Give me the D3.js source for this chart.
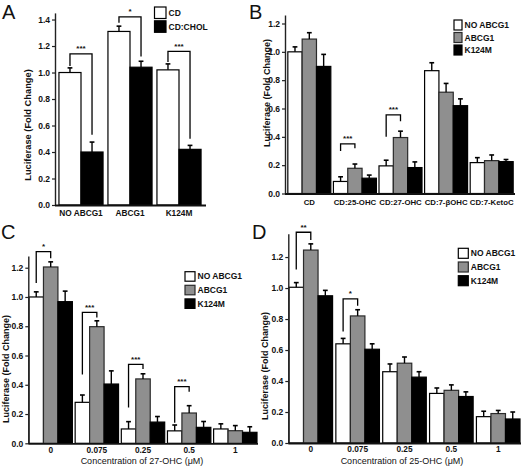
<!DOCTYPE html>
<html><head><meta charset="utf-8">
<script src="https://cdn.jsdelivr.net/npm/d3@7"></script>
<style>body{margin:0;background:#fff}svg{display:block;font-family:"Liberation Sans",Arial,sans-serif}</style>
</head><body><svg id="chart" width="523" height="467"></svg>
<script>
// ---------- DATA ----------
const yTicksA = [0, 0.2, 0.4, 0.6, 0.8, 1.0, 1.2, 1.4];
const yTicksBCD = [0, 0.2, 0.4, 0.6, 0.8, 1.0, 1.2];

// Panel A
const catA = ["NO ABCG1", "ABCG1", "K124M"];
const seriesA = ["CD", "CD:CHOL"];
const valA_CD = [1.0, 1.31, 1.02];
const errA_CD = [0.035, 0.04, 0.045];
const valA_CHOL = [0.40, 1.04, 0.42];
const errA_CHOL = [0.075, 0.045, 0.03];
const sigA = [
  {cat: "NO ABCG1", from: 0, to: 1, top: 1.14, fromLow: 1.05, toLow: 0.53, label: "***"},
  {cat: "ABCG1", from: 0, to: 1, top: 1.42, fromLow: 1.375, toLow: 1.12, label: "*"},
  {cat: "K124M", from: 0, to: 1, top: 1.16, fromLow: 1.08, toLow: 0.50, label: "***"}
];

// Panel B
const catB = ["CD", "CD:25-OHC", "CD:27-OHC", "CD:7-\u03B2OHC", "CD:7-KetoC"];
const seriesBCD = ["NO ABCG1", "ABCG1", "K124M"];
const valB_NO = [1.0, 0.085, 0.195, 0.867, 0.218];
const errB_NO = [0.035, 0.033, 0.04, 0.056, 0.035];
const valB_ABCG1 = [1.09, 0.178, 0.395, 0.715, 0.232];
const errB_ABCG1 = [0.045, 0.03, 0.045, 0.062, 0.04];
const valB_K124M = [0.897, 0.108, 0.183, 0.62, 0.225];
const errB_K124M = [0.085, 0.022, 0.04, 0.048, 0.015];
const sigB = [
  {cat: "CD:25-OHC", from: 0, to: 1, top: 0.35, fromLow: 0.30, toLow: 0.32, label: "***"},
  {cat: "CD:27-OHC", from: 0, to: 1, top: 0.555, fromLow: 0.40, toLow: 0.51, label: "***"}
];

// Panel C
const catC = ["0", "0.075", "0.25", "0.5", "1"];
const valC_NO = [1.0, 0.28, 0.098, 0.085, 0.098];
const errC_NO = [0.035, 0.05, 0.05, 0.04, 0.035];
const valC_ABCG1 = [1.205, 0.797, 0.44, 0.207, 0.086];
const errC_ABCG1 = [0.035, 0.04, 0.035, 0.05, 0.035];
const valC_K124M = [0.968, 0.405, 0.145, 0.109, 0.075];
const errC_K124M = [0.072, 0.09, 0.038, 0.04, 0.038];
const sigC = [
  {cat: "0", from: 0, to: 1, top: 1.31, fromLow: 1.095, toLow: 1.265, label: "*"},
  {cat: "0.075", from: 0, to: 1, top: 0.895, fromLow: 0.47, toLow: 0.86, label: "***"},
  {cat: "0.25", from: 0, to: 1, top: 0.54, fromLow: 0.245, toLow: 0.508, label: "***"},
  {cat: "0.5", from: 0, to: 1, top: 0.387, fromLow: 0.14, toLow: 0.353, label: "***"}
];

// Panel D
const catD = ["0", "0.075", "0.25", "0.5", "1"];
const valD_NO = [1.005, 0.64, 0.46, 0.32, 0.17];
const errD_NO = [0.03, 0.035, 0.05, 0.035, 0.035];
const valD_ABCG1 = [1.245, 0.82, 0.515, 0.34, 0.19];
const errD_ABCG1 = [0.04, 0.04, 0.04, 0.035, 0.02];
const valD_K124M = [0.95, 0.605, 0.425, 0.30, 0.155];
const errD_K124M = [0.035, 0.035, 0.035, 0.03, 0.045];
const sigD = [
  {cat: "0", from: 0, to: 1, top: 1.36, fromLow: 1.12, toLow: 1.31, label: "**"},
  {cat: "0.075", from: 0, to: 1, top: 0.93, fromLow: 0.72, toLow: 0.885, label: "*"}
];

const yLabel = "Luciferase (Fold Change)";
const xTitleC = "Concentration of 27-OHC (\u03BCM)";
const xTitleD = "Concentration of 25-OHC (\u03BCM)";

// ---------- DRAWING ----------
const svg = d3.select("#chart");
const FILL = {white: "#ffffff", grey: "#8f8f8f", black: "#000000"};
const STROKE = {white: "#000", grey: "#2a2a2a", black: "#000"};

function panel(o) {
  const g = svg.append("g");
  const x0 = d3.scaleBand().domain(o.categories).range(o.bandRange)
    .paddingInner(o.padIn).paddingOuter(o.padOut);
  const x1 = d3.scaleBand().domain(d3.range(o.series.length)).range([0, x0.bandwidth()]);
  const y = d3.scaleLinear().domain([0, o.yMax]).range([o.yBase, o.yTop]);

  // bars
  o.series.forEach((s, si) => {
    const gs = g.append("g");
    gs.selectAll("rect").data(o.categories).join("rect")
      .attr("x", c => x0(c) + x1(si))
      .attr("y", (c, i) => y(o.values[si][i]))
      .attr("width", x1.bandwidth())
      .attr("height", (c, i) => y(0) - y(o.values[si][i]))
      .attr("fill", FILL[o.colors[si]])
      .attr("stroke", STROKE[o.colors[si]])
      .attr("stroke-width", 1.2);
    // error bars
    const cx = c => x0(c) + x1(si) + x1.bandwidth() / 2;
    gs.selectAll("line.err").data(o.categories).join("line").attr("class", "err")
      .attr("x1", cx).attr("x2", cx)
      .attr("y1", (c, i) => y(o.values[si][i]))
      .attr("y2", (c, i) => y(o.values[si][i] + o.errors[si][i]))
      .attr("stroke", "#000").attr("stroke-width", 1.4);
    gs.selectAll("line.cap").data(o.categories).join("line").attr("class", "cap")
      .attr("x1", c => cx(c) - 2.4).attr("x2", c => cx(c) + 2.4)
      .attr("y1", (c, i) => y(o.values[si][i] + o.errors[si][i]))
      .attr("y2", (c, i) => y(o.values[si][i] + o.errors[si][i]))
      .attr("stroke", "#000").attr("stroke-width", 1.6);
  });

  // y axis
  const ax = g.append("g").attr("transform", `translate(${o.axisX},0)`)
    .call(d3.axisLeft(y).tickValues(o.ticks).tickFormat(d3.format(".1f")).tickSize(3).tickSizeOuter(0).tickPadding(2));
  ax.select(".domain").attr("stroke", "#222").attr("stroke-width", 1.4);
  ax.selectAll(".tick line").attr("stroke", "#222").attr("stroke-width", 1.2);
  ax.selectAll(".tick text").attr("font-size", o.tickFont).attr("font-weight", "bold")
    .attr("font-family", "Liberation Sans, Arial, sans-serif").attr("fill", "#111");

  // x axis
  const xa = g.append("g").attr("transform", `translate(0,${o.yBase})`)
    .call(d3.axisBottom(x0).tickSize(0).tickPadding(o.xPad));
  xa.select(".domain").remove();
  xa.selectAll(".tick text").attr("font-size", o.xFont).attr("font-weight", "bold")
    .attr("font-family", "Liberation Sans, Arial, sans-serif").attr("fill", "#111");
  g.append("line").attr("x1", o.axisX).attr("x2", o.axisEnd)
    .attr("y1", o.yBase + 0.5).attr("y2", o.yBase + 0.5)
    .attr("stroke", "#111").attr("stroke-width", 1.8);

  // y label
  g.append("text").attr("transform", `translate(${o.yLabelX},${o.yLabelY}) rotate(-90)`)
    .attr("text-anchor", "middle").attr("font-size", o.yLabelFont).attr("font-weight", "bold")
    .attr("fill", "#111").text(yLabel);

  // x title
  if (o.xTitle) {
    g.append("text").attr("x", o.xTitleX).attr("y", o.xTitleY).attr("text-anchor", "middle")
      .attr("font-size", 9).attr("fill", "#111").text(o.xTitle);
  }

  // significance brackets
  o.sig.forEach(s => {
    const xa_ = x0(s.cat) + x1(s.from) + x1.bandwidth() / 2;
    const xb_ = x0(s.cat) + x1(s.to) + x1.bandwidth() / 2;
    g.append("path")
      .attr("d", `M${xa_},${y(s.fromLow)}V${y(s.top)}H${xb_}V${y(s.toLow)}`)
      .attr("fill", "none").attr("stroke", "#000").attr("stroke-width", 1.3);
    g.append("text").attr("x", (xa_ + xb_) / 2).attr("y", y(s.top) - 2.5)
      .attr("text-anchor", "middle").attr("font-size", 8).attr("font-weight", "bold")
      .attr("fill", "#111").text(s.label);
  });

  // legend
  const lg = g.append("g");
  o.series.forEach((s, si) => {
    lg.append("rect").attr("x", o.legX).attr("y", o.legY + si * o.legStep)
      .attr("width", o.legW).attr("height", o.legH)
      .attr("fill", FILL[o.colors[si]]).attr("stroke", STROKE[o.colors[si]]).attr("stroke-width", 1.2);
    lg.append("text").attr("x", o.legX + o.legW + 2.5).attr("y", o.legY + si * o.legStep + o.legH / 2 + 3)
      .attr("font-size", o.legFont).attr("font-weight", "bold").attr("fill", "#111").text(s);
  });

  // panel letter
  svg.append("text").attr("x", o.letterX).attr("y", o.letterY).attr("font-size", 20)
    .attr("fill", "#111").text(o.letter);
}

panel({
  letter: "A", letterX: 2, letterY: 19,
  categories: catA, series: seriesA, colors: ["white", "black"],
  values: [valA_CD, valA_CHOL], errors: [errA_CD, errA_CHOL],
  bandRange: [56.5, 203.5], padIn: 0.1, padOut: 0.05,
  axisX: 55, axisEnd: 206, yBase: 205, yTop: 12.9, yMax: 1.45, ticks: yTicksA,
  tickFont: 8.5, xFont: 8.3, xPad: 5,
  yLabelX: 31, yLabelY: 125, yLabelFont: 9.3,
  sig: sigA, legX: 154.5, legY: 7, legStep: 13.8, legW: 11.5, legH: 11.5, legFont: 8.5
});

panel({
  letter: "B", letterX: 249, letterY: 19,
  categories: catB, series: seriesBCD, colors: ["white", "grey", "black"],
  values: [valB_NO, valB_ABCG1, valB_K124M], errors: [errB_NO, errB_ABCG1, errB_K124M],
  bandRange: [286, 515], padIn: 0.057, padOut: 0.04,
  axisX: 285, axisEnd: 515, yBase: 193.5, yTop: 15, yMax: 1.26, ticks: yTicksBCD,
  tickFont: 8.5, xFont: 7.8, xPad: 6,
  yLabelX: 270, yLabelY: 93, yLabelFont: 9,
  sig: sigB, legX: 454, legY: 20, legStep: 12.5, legW: 8, legH: 10, legFont: 8.5
});

panel({
  letter: "C", letterX: 1, letterY: 239,
  categories: catC, series: seriesBCD, colors: ["white", "grey", "black"],
  values: [valC_NO, valC_ABCG1, valC_K124M], errors: [errC_NO, errC_ABCG1, errC_K124M],
  bandRange: [29, 257], padIn: 0.06, padOut: 0,
  axisX: 28.3, axisEnd: 258, yBase: 443.3, yTop: 256, yMax: 1.28, ticks: yTicksBCD,
  tickFont: 8.5, xFont: 8.3, xPad: 3.5,
  yLabelX: 9, yLabelY: 369, yLabelFont: 9,
  xTitle: xTitleC, xTitleX: 142, xTitleY: 464,
  sig: sigC, legX: 185, legY: 271.7, legStep: 13.6, legW: 10, legH: 9.5, legFont: 8.5
});

panel({
  letter: "D", letterX: 252, letterY: 239,
  categories: catD, series: seriesBCD, colors: ["white", "grey", "black"],
  values: [valD_NO, valD_ABCG1, valD_K124M], errors: [errD_NO, errD_ABCG1, errD_K124M],
  bandRange: [289, 520], padIn: 0.07, padOut: 0,
  axisX: 288.3, axisEnd: 521, yBase: 443, yTop: 233.8, yMax: 1.35, ticks: yTicksBCD,
  tickFont: 8.5, xFont: 8.3, xPad: 3.5,
  yLabelX: 268, yLabelY: 366, yLabelFont: 9,
  xTitle: xTitleD, xTitleX: 402, xTitleY: 464,
  sig: sigD, legX: 458.3, legY: 248.3, legStep: 13.7, legW: 10, legH: 10, legFont: 8.5
});
</script></body></html>
